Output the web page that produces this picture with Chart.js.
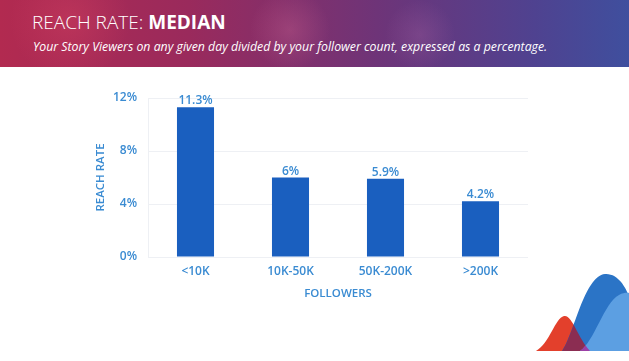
<!DOCTYPE html>
<html><head><meta charset="utf-8">
<script src="https://cdn.jsdelivr.net/npm/chart.js@4"></script>
<style>
html,body{margin:0;padding:0;background:#fff;width:629px;height:361px;overflow:hidden;font-family:"Open Sans",sans-serif;}
#hdr{position:absolute;left:0;top:0;width:629px;height:67px;
background:radial-gradient(circle at 70px 20px, rgba(220,70,100,0.35), rgba(0,0,0,0) 60px),
radial-gradient(circle at 290px 30px, rgba(230,120,160,0.25), rgba(0,0,0,0) 40px),
radial-gradient(circle at 420px 35px, rgba(200,120,180,0.2), rgba(0,0,0,0) 35px),
linear-gradient(90deg,#b22a50 0%,#9a2a5c 30%,#6e3478 60%,#4f4290 85%,#3f4f9e 100%);}
#title{position:absolute;left:32px;top:9px;color:#fff;font-size:19px;font-weight:300;letter-spacing:0;}
#title b{font-weight:700;}
#sub{position:absolute;left:33px;top:38px;color:#fff;font-size:12.3px;font-style:italic;}
#c{position:absolute;left:0;top:0;}
svg{position:absolute;left:0;top:0;}
</style></head>
<body>
<div id="hdr"></div>
<div id="title">REACH RATE: <b>MEDIAN</b></div>
<div id="sub">Your Story Viewers on any given day divided by your follower count, expressed as a percentage.</div>
<svg width="629" height="361">
  <defs>
    <clipPath id="blueClip"><path id="bp" d="M562,351 C574,335 584,276 605,274 C618,273 626,288 629,296 L629,351 Z"/></clipPath>
    <clipPath id="lbClip"><path d="M580,351 C594,342 604,303 619,295 C624,292 629,293 629,293 L629,351 Z"/></clipPath>
  </defs>
  <path d="M536,351 C550,343 555,318 564,316 C572,314 578,338 590,351 Z" fill="#e3402c"/>
  <path d="M562,351 C574,335 584,276 605,274 C618,273 626,288 629,296 L629,351 Z" fill="#2b74c6"/>
  <path d="M536,351 C550,343 555,318 564,316 C572,314 578,338 590,351 Z" fill="#8b2d52" clip-path="url(#blueClip)"/>
  <path d="M580,351 C594,342 604,303 619,295 C624,292 629,293 629,293 L629,351 Z" fill="#5c9fe2"/>
  <path d="M536,351 C550,343 555,318 564,316 C572,314 578,338 590,351 Z" fill="#9c3fa6" clip-path="url(#lbClip)"/>
</svg>
<canvas id="c" width="629" height="361"></canvas>
<script>
const categories = ["<10K","10K-50K","50K-200K",">200K"];
const reachRate = [11.3, 6, 5.9, 4.2];
const valueLabels = ["11.3%","6%","5.9%","4.2%"];
const yTicks = [0,4,8,12];

const blue = "#3a8bd2";
const labelPlugin = {
  id:"vals",
  afterDatasetsDraw(chart){
    const ctx = chart.ctx;
    const meta = chart.getDatasetMeta(0);
    ctx.save();
    ctx.font = "600 12px 'Open Sans'";
    ctx.fillStyle = blue;
    ctx.textAlign = "center";
    ctx.textBaseline = "alphabetic";
    meta.data.forEach((bar,i)=>{
      ctx.fillText(valueLabels[i], bar.x, bar.y - 3);
    });
    ctx.restore();
  }
};

new Chart(document.getElementById("c"),{
  type:"bar",
  data:{labels:categories,datasets:[{data:reachRate,backgroundColor:"#1a5fbf",barPercentage:0.78,categoryPercentage:0.5}]},
  options:{
    responsive:false,animation:false,
    layout:{padding:{left:90,top:98,right:101,bottom:56}},
    plugins:{legend:{display:false},tooltip:{enabled:false}},
    scales:{
      x:{
        grid:{display:false,drawTicks:false},
        border:{display:false},
        ticks:{color:blue,font:{family:"Open Sans",size:12,weight:"600"},padding:7,maxRotation:0},
        title:{display:true,text:"FOLLOWERS",color:blue,font:{family:"Open Sans",size:11.5,weight:"600"},padding:{top:0,bottom:4}},
        afterFit(s){s.height=48;}
      },
      y:{
        min:0,max:12,
        afterBuildTicks(s){s.ticks=yTicks.map(v=>({value:v}));},
        grid:{color:"#eef0f4",drawTicks:false},
        border:{display:true,color:"#eef0f4"},
        ticks:{color:blue,font:{family:"Open Sans",size:12,weight:"600"},padding:11,callback:v=>v+"%"},
        title:{display:true,text:"REACH RATE",color:blue,font:{family:"Open Sans",size:11.5,weight:"600"},padding:{top:4,bottom:0}},
        afterFit(s){s.width=58;}
      }
    }
  },
  plugins:[labelPlugin]
});
</script>
</body></html>
